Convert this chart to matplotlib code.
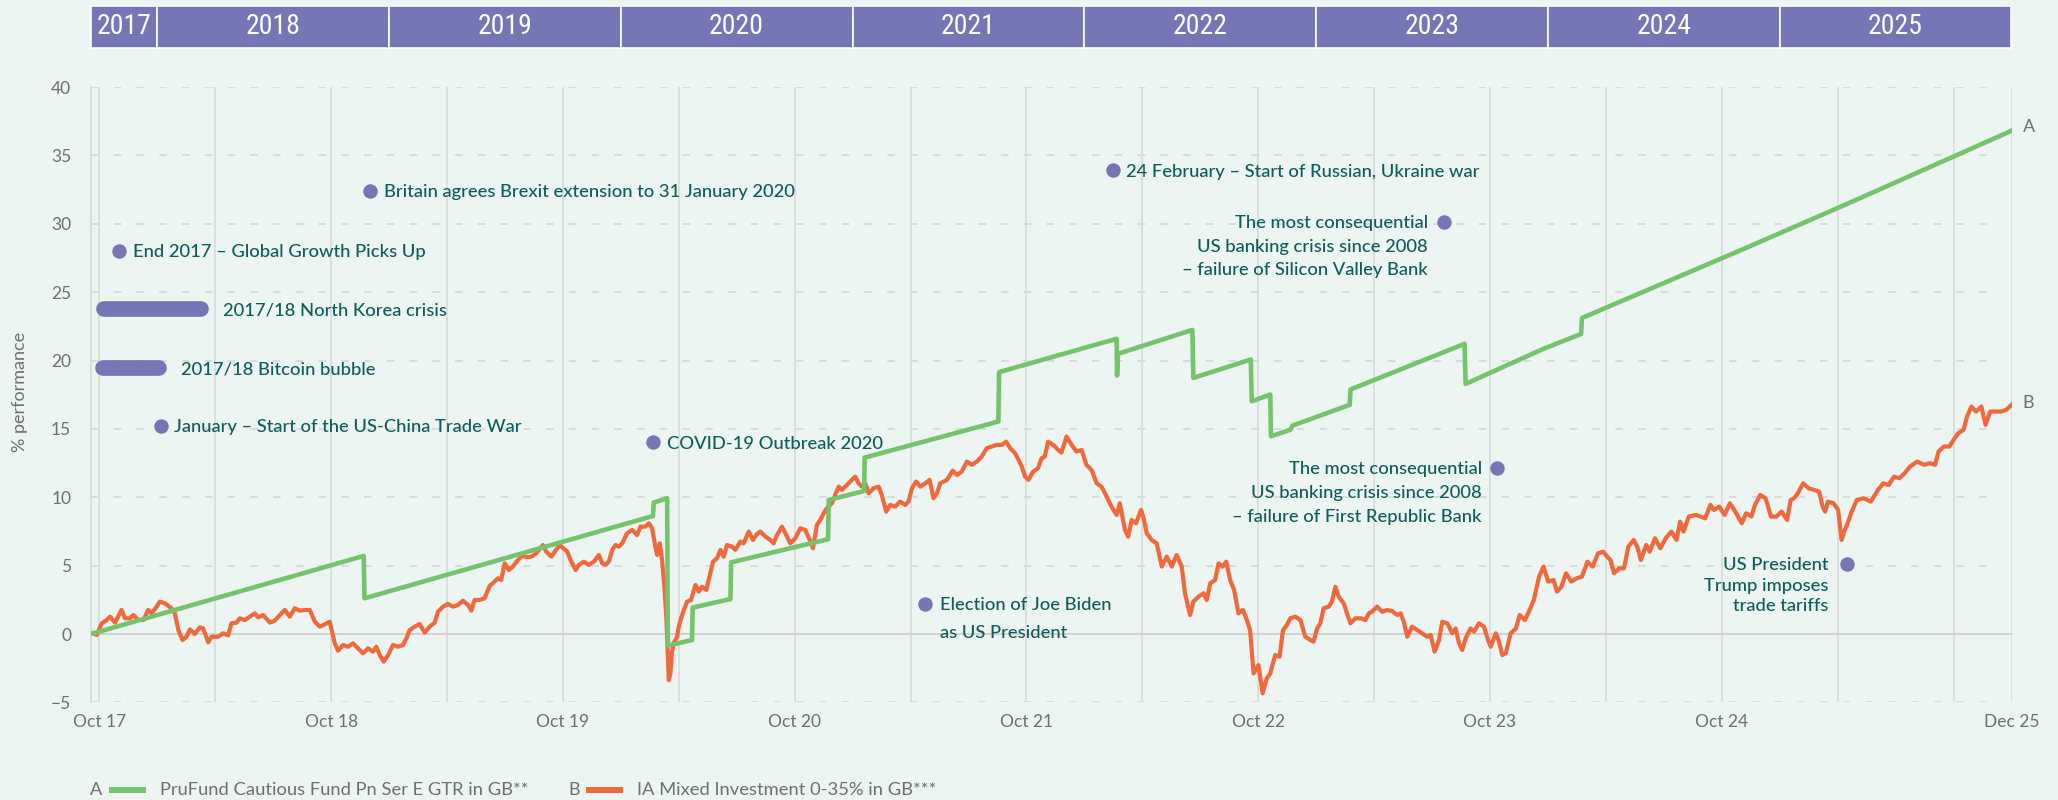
#!/usr/bin/env python3
"""PruFund Cautious vs IA Mixed Investment 0-35% - cumulative % performance, Oct 17 to Dec 25."""

import matplotlib
matplotlib.use("Agg")
import matplotlib.pyplot as plt
import matplotlib.transforms as mtransforms
from matplotlib import font_manager
from matplotlib.lines import Line2D
from matplotlib.patches import Rectangle

# ---- data (dates as decimal years, values in %) ----
YEARS = [2017, 2018, 2019, 2020, 2021, 2022, 2023, 2024, 2025]
X_TICKS = [2017.75, 2018.75, 2019.75, 2020.75, 2021.75, 2022.75, 2023.75, 2024.75, 2026.0]
X_LABELS = ["Oct 17", "Oct 18", "Oct 19", "Oct 20", "Oct 21", "Oct 22", "Oct 23", "Oct 24", "Dec 25"]
Y_TICKS = [-5, 0, 5, 10, 15, 20, 25, 30, 35, 40]

PRU_DATE = [2017.724, 2018.891, 2018.894, 2020.139, 2020.142, 2020.200, 2020.203, 2020.307,
            2020.310, 2020.473, 2020.476, 2020.894, 2020.897, 2021.050, 2021.052, 2021.629,
            2021.632, 2022.139, 2022.141, 2022.145, 2022.466, 2022.470, 2022.718, 2022.722,
            2022.802, 2022.805, 2022.888, 2022.898, 2023.145, 2023.148, 2023.640, 2023.645,
            2023.980, 2024.143, 2024.147, 2024.824, 2025.285, 2026.000]
PRU_PCT = [0.05, 5.71, 2.61, 8.63, 9.61, 9.93, -0.85, -0.44, 1.93, 2.56,
           5.24, 6.93, 9.8, 10.46, 12.9, 15.54, 19.15, 21.59, 18.9, 20.49,
           22.24, 18.73, 20.07, 17.02, 17.51, 14.46, 14.93, 15.24, 16.76, 17.88,
           21.22, 18.29, 20.85, 21.94, 23.11, 28.01, 31.41, 36.8]

IA_DATE = [
    2017.724, 2017.739, 2017.760, 2017.782, 2017.796, 2017.818, 2017.846, 2017.861, 2017.882, 2017.897,
    2017.918, 2017.940, 2017.961, 2017.976, 2017.997, 2018.011, 2018.033, 2018.062, 2018.076, 2018.091,
    2018.109, 2018.126, 2018.141, 2018.162, 2018.184, 2018.198, 2018.220, 2018.234, 2018.263, 2018.284,
    2018.306, 2018.320, 2018.342, 2018.356, 2018.378, 2018.399, 2018.421, 2018.435, 2018.457, 2018.486,
    2018.507, 2018.529, 2018.550, 2018.572, 2018.593, 2018.615, 2018.636, 2018.658, 2018.680, 2018.701,
    2018.723, 2018.744, 2018.766, 2018.780, 2018.802, 2018.823, 2018.845, 2018.866, 2018.888, 2018.909,
    2018.931, 2018.945, 2018.960, 2018.977, 2018.996, 2019.017, 2019.039, 2019.060, 2019.075, 2019.089,
    2019.111, 2019.132, 2019.154, 2019.175, 2019.197, 2019.211, 2019.233, 2019.254, 2019.276, 2019.297,
    2019.319, 2019.341, 2019.355, 2019.369, 2019.391, 2019.412, 2019.434, 2019.455, 2019.470, 2019.484,
    2019.499, 2019.517, 2019.534, 2019.556, 2019.578, 2019.592, 2019.614, 2019.635, 2019.664, 2019.678,
    2019.700, 2019.721, 2019.736,
    2019.769, 2019.783, 2019.805, 2019.819, 2019.841, 2019.862, 2019.884, 2019.905, 2019.920, 2019.934,
    2019.948, 2019.963, 2019.977, 2019.991, 2020.006, 2020.027, 2020.049, 2020.070, 2020.085, 2020.106,
    2020.121, 2020.135, 2020.149, 2020.157, 2020.168, 2020.178, 2020.188, 2020.197, 2020.203, 2020.207,
    2020.214, 2020.221, 2020.228, 2020.243, 2020.250, 2020.260, 2020.272, 2020.286, 2020.303, 2020.322,
    2020.336, 2020.351, 2020.369, 2020.379, 2020.398, 2020.415, 2020.430, 2020.444, 2020.458, 2020.480,
    2020.494, 2020.516, 2020.530, 2020.552, 2020.570, 2020.588, 2020.602, 2020.624, 2020.645, 2020.659,
    2020.674, 2020.695, 2020.710, 2020.731, 2020.753, 2020.774, 2020.796, 2020.815, 2020.829, 2020.846,
    2020.861, 2020.875, 2020.889, 2020.911, 2020.925, 2020.940, 2020.954, 2020.968, 2020.990, 2021.011,
    2021.026, 2021.040, 2021.055, 2021.069, 2021.091, 2021.112, 2021.126, 2021.145, 2021.162, 2021.184,
    2021.205, 2021.227, 2021.241, 2021.256, 2021.274, 2021.292, 2021.313, 2021.332, 2021.349, 2021.364,
    2021.378, 2021.407, 2021.432, 2021.450, 2021.471, 2021.493, 2021.514, 2021.536, 2021.557, 2021.579,
    2021.601, 2021.622, 2021.644, 2021.662, 2021.680, 2021.701, 2021.716, 2021.730, 2021.744, 2021.759,
    2021.779, 2021.800, 2021.815, 2021.829, 2021.844, 2021.865, 2021.887, 2021.901, 2021.923, 2021.945,
    2021.966, 2021.988, 2022.009, 2022.031, 2022.053, 2022.074, 2022.096, 2022.117, 2022.139, 2022.153,
    2022.175, 2022.189, 2022.204, 2022.223, 2022.244, 2022.254, 2022.269, 2022.290, 2022.312, 2022.334,
    2022.355, 2022.377, 2022.398, 2022.420, 2022.434, 2022.456, 2022.470, 2022.492, 2022.514, 2022.528,
    2022.543, 2022.564, 2022.579, 2022.597, 2022.612, 2022.629, 2022.646, 2022.665, 2022.684, 2022.701,
    2022.715, 2022.730, 2022.751, 2022.769, 2022.787, 2022.802, 2022.823, 2022.842, 2022.857, 2022.874,
    2022.888, 2022.910, 2022.932, 2022.953, 2022.975, 2022.989, 2023.004, 2023.018, 2023.032, 2023.054,
    2023.068, 2023.083, 2023.097, 2023.119, 2023.133, 2023.148, 2023.169, 2023.191, 2023.213, 2023.227,
    2023.241, 2023.263, 2023.285, 2023.306, 2023.328, 2023.349, 2023.364, 2023.378, 2023.393, 2023.414,
    2023.436, 2023.457, 2023.479, 2023.494, 2023.511, 2023.530, 2023.544, 2023.566, 2023.587, 2023.602,
    2023.616, 2023.630, 2023.645, 2023.666, 2023.681, 2023.702, 2023.724, 2023.739, 2023.753, 2023.775,
    2023.789, 2023.803, 2023.818, 2023.839,
    2023.862, 2023.878, 2023.901, 2023.924, 2023.939, 2023.962, 2023.981, 2024.001, 2024.024, 2024.039,
    2024.058, 2024.078, 2024.101, 2024.124, 2024.147, 2024.170, 2024.193, 2024.216, 2024.239, 2024.255,
    2024.270, 2024.285, 2024.308, 2024.328, 2024.347, 2024.370, 2024.385, 2024.401, 2024.424, 2024.439,
    2024.462, 2024.485, 2024.508, 2024.532, 2024.555, 2024.570, 2024.585, 2024.608, 2024.639, 2024.678,
    2024.701, 2024.716, 2024.739, 2024.762, 2024.785, 2024.808, 2024.836, 2024.855, 2024.878, 2024.893,
    2024.916, 2024.939, 2024.962, 2024.985, 2025.008, 2025.032, 2025.047, 2025.062, 2025.078, 2025.101,
    2025.124, 2025.147, 2025.170, 2025.185, 2025.196, 2025.208, 2025.232, 2025.252, 2025.267, 2025.278,
    2025.293, 2025.308, 2025.332, 2025.362, 2025.393, 2025.424, 2025.447, 2025.470, 2025.493, 2025.516,
    2025.539, 2025.562, 2025.593, 2025.624, 2025.647, 2025.670, 2025.685, 2025.708, 2025.732, 2025.750,
    2025.770, 2025.793, 2025.808, 2025.827, 2025.847, 2025.870, 2025.888, 2025.908, 2025.932, 2025.955,
    2025.977, 2026.000,
]
IA_PCT = [
    0.05, -0.07, 0.78, 1.02, 1.27, 0.83, 1.76, 1.15, 1.15, 1.39,
    1.02, 1.02, 1.76, 1.51, 2.0, 2.37, 2.24, 1.88, 1.51, 0.29,
    -0.44, -0.2, 0.34, 0.0, 0.49, 0.41, -0.61, -0.2, -0.2, 0.05,
    -0.1, 0.78, 0.83, 1.15, 1.02, 1.27, 1.51, 1.22, 1.39, 0.83,
    0.98, 1.39, 1.76, 1.27, 1.88, 1.71, 1.76, 1.76, 0.9, 0.54,
    0.71, 0.9, -0.68, -1.22, -0.8, -0.93, -0.68, -1.05, -1.41, -1.05,
    -1.29, -0.93, -1.54, -2.02, -1.54, -0.8, -0.93, -0.8, -0.32, 0.29,
    0.54, 0.73, 0.1, 0.54, 0.83, 1.63, 2.0, 2.2, 2.0, 2.12,
    2.44, 2.12, 1.71, 2.49, 2.49, 2.61, 3.51, 3.83, 4.07, 3.95,
    5.17, 4.68, 4.93, 5.41, 5.78, 5.61, 5.66, 5.9, 6.51, 6.02,
    5.66, 6.15, 6.51,
    6.02, 5.41, 4.68, 5.05, 5.29, 5.05, 5.29, 5.78, 5.17, 5.05,
    5.29, 6.15, 6.51, 6.39, 6.63, 7.37, 7.61, 7.24, 7.85, 7.85,
    8.1, 7.73, 6.39, 5.78, 6.63, 5.41, 3.46, 1.02, -1.66, -3.37,
    -2.88, -1.29, -0.68, -0.2, 0.54, 1.15, 1.76, 2.37, 2.49, 3.59,
    3.1, 3.46, 3.22, 3.95, 5.29, 5.54, 6.15, 5.66, 6.51, 6.39,
    6.15, 6.76, 6.63, 7.49, 6.88, 7.32, 7.49, 7.12, 6.88, 6.63,
    7.24, 7.85, 7.37, 6.63, 7.0, 7.73, 7.61, 6.88, 6.27, 7.98,
    8.34, 8.83, 9.2, 9.56, 10.17, 10.78, 10.54, 10.78, 11.15, 11.51,
    11.02, 10.78, 11.02, 10.29, 10.66, 10.78, 10.17, 8.95, 9.44, 9.32,
    9.68, 9.44, 9.68, 10.66, 11.15, 10.78, 11.02, 11.27, 9.93, 10.29,
    11.02, 11.27, 11.95, 11.63, 11.88, 12.61, 12.37, 12.61, 12.98, 13.59,
    13.71, 13.83, 13.83, 14.07, 13.59, 13.22, 12.73, 12.24, 11.51, 11.27,
    11.88, 12.12, 12.85, 12.98, 14.07, 13.83, 13.46, 13.27, 14.44, 13.83,
    13.34, 13.46, 12.37, 12.0, 11.02, 10.78, 10.05, 9.32, 8.71, 9.56,
    7.61, 7.12, 8.34, 8.1, 9.07, 8.59, 7.37, 6.88, 6.63, 4.93,
    5.66, 4.93, 5.78, 4.93, 2.98, 1.39, 2.37, 2.73, 2.98, 2.49,
    3.71, 3.95, 5.17, 4.93, 5.29, 3.95, 3.22, 1.51, 1.76, 1.02,
    0.29, -2.88, -2.27, -4.34, -3.24, -2.88, -1.54, -1.66, 0.29, 0.66,
    1.15, 1.27, 1.02, -0.2, -0.44, -0.56, 0.41, 0.78, 1.88, 2.0,
    2.37, 3.46, 2.73, 2.24, 1.51, 0.78, 1.15, 1.15, 1.02, 1.51,
    1.63, 2.0, 1.63, 1.76, 1.68, 1.39, 1.51, 0.9, -0.2, 0.54,
    0.29, 0.05, -0.2, -0.07, -1.29, -0.44, 0.9, 0.78, 0.05, 0.41,
    -0.68, -1.17, -0.32, 0.41, 0.17, 0.78, 0.54, -0.32, -0.93, 0.05,
    -0.56, -1.54, -1.41, 0.05,
    0.41, 1.39, 1.02, 1.88, 2.49, 4.2, 4.93, 3.83, 3.95, 3.1,
    3.46, 4.44, 3.83, 4.07, 4.2, 5.29, 4.93, 5.9, 6.02, 5.66,
    5.41, 4.44, 4.8, 4.8, 6.39, 6.88, 6.39, 5.41, 6.51, 6.02,
    7.0, 6.27, 7.0, 7.49, 6.88, 8.22, 7.49, 8.59, 8.71, 8.46,
    9.44, 9.07, 9.32, 8.71, 9.56, 8.95, 8.1, 8.83, 8.59, 9.44,
    10.17, 9.93, 8.59, 8.59, 8.95, 8.34, 9.8, 9.93, 10.29, 11.02,
    10.66, 10.54, 10.41, 9.32, 8.95, 9.68, 9.56, 9.07, 6.88, 7.49,
    8.1, 8.83, 9.8, 9.93, 9.68, 10.54, 11.02, 10.9, 11.51, 11.39,
    11.76, 12.24, 12.61, 12.37, 12.49, 12.37, 13.34, 13.71, 13.71, 14.2,
    14.68, 14.93, 15.9, 16.63, 16.27, 16.63, 15.29, 16.27, 16.27, 16.27,
    16.39, 16.76,
]

SERIES_NAMES = ["PruFund Cautious Fund Pn Ser E GTR in GB**", "IA Mixed Investment 0-35% in GB***"]

# point events: date, level, text
EVENT_DATE = [2017.837, 2018.919, 2018.017, 2020.141, 2021.313, 2022.124, 2023.550, 2023.780, 2025.289]
EVENT_PCT = [28.04, 32.43, 15.24, 14.02, 2.22, 33.9, 30.15, 12.17, 5.14]
EVENT_TEXT = [
    "End 2017 – Global Growth Picks Up",
    "Britain agrees Brexit extension to 31 January 2020",
    "January – Start of the US-China Trade War",
    "COVID-19 Outbreak 2020",
    "Election of Joe Biden\nas US President",
    "24 February – Start of Russian, Ukraine war",
    "The most consequential\nUS banking crisis since 2008\n– failure of Silicon Valley Bank",
    "The most consequential\nUS banking crisis since 2008\n– failure of First Republic Bank",
    "US President\nTrump imposes\ntrade tariffs",
]
# period events: start, end, level, text
SPAN_START = [2017.770, 2017.765]
SPAN_END = [2018.188, 2018.006]
SPAN_PCT = [23.77, 19.46]
SPAN_TEXT = ["2017/18 North Korea crisis", "2017/18 Bitcoin bubble"]

# ---- style ----
BG = "#ecf5f2"
PURPLE = "#7576b6"
TEAL = "#0f5d5a"
GREEN = "#74c46b"
ORANGE = "#f2683d"
GREY = "#6f6f6f"
GRID = "#d6d9d9"

W, H = 2058, 800
AX_L, AX_R, AX_T, AX_B = 90.6, 2011.5, 87.0, 702.4   # pixel box of the plot


def first_font(cands, fallback):
    have = {f.name for f in font_manager.fontManager.ttflist}
    for c in cands:
        if c in have:
            return c
    return fallback


BODY = first_font(["Lato", "Open Sans", "Noto Sans"], "DejaVu Sans")
NARROW = first_font(["Liberation Sans Narrow", "DejaVu Sans Condensed", "Roboto Condensed"], None)

plt.rcParams["font.family"] = [BODY, "DejaVu Sans"]

fig = plt.figure(figsize=(W / 100, H / 100), dpi=100, facecolor=BG)
ax = fig.add_axes([AX_L / W, 1 - AX_B / H, (AX_R - AX_L) / W, (AX_B - AX_T) / H])
ax.set_facecolor(BG)
ax.set_xlim(2017.7125, 2026.0)
ax.set_ylim(-5, 40)

for s in ["top", "right", "bottom"]:
    ax.spines[s].set_visible(False)
ax.spines["left"].set_color(GRID)
ax.spines["left"].set_linewidth(1.2)

# grid: half-year verticals, dashed horizontals, solid zero line
vx = 2017.75
while vx < 2026.0:
    ax.axvline(vx, color=GRID, lw=1.1, zorder=1)
    vx += 0.5
ax.axvline(2026.0, color=GRID, lw=1.1, zorder=1)
for y in Y_TICKS:
    if y == 0:
        ax.axhline(y, color="#d4cdd1", lw=1.3, zorder=1)
    else:
        ax.axhline(y, xmax=0.994, color=GRID, lw=1.3, dashes=(4.2, 8.4), zorder=1)

ax.set_yticks(Y_TICKS)
ax.set_xticks(X_TICKS, X_LABELS)
ax.tick_params(axis="y", length=0, pad=14, labelsize=12.5, labelcolor=GREY)
ax.tick_params(axis="x", length=0, pad=8, labelsize=12.5, labelcolor=GREY)

# series
ax.plot(IA_DATE, IA_PCT, color=ORANGE, lw=3.0, solid_joinstyle="round", zorder=3)
ax.plot(PRU_DATE, PRU_PCT, color=GREEN, lw=3.3, solid_joinstyle="round", zorder=4)

# end labels
ax.annotate("A", (PRU_DATE[-1], PRU_PCT[-1]), xytext=(8, 3), textcoords="offset points",
            ha="left", va="center", fontsize=13, color=GREY, annotation_clip=False)
ax.annotate("B", (IA_DATE[-1], IA_PCT[-1]), xytext=(8, 1), textcoords="offset points",
            ha="left", va="center", fontsize=13, color=GREY, annotation_clip=False)

# events
EVENT_DX = [10, 10, 9.5, 9.5, 11, 9, -11.5, -11, -13]     # points, sign = side of the dot
EVENT_LS = [0, 0, 0, 0, 20, 0, 17, 17.1, 14.8]          # line pitch in points
for t, v, txt, dx, ls in zip(EVENT_DATE, EVENT_PCT, EVENT_TEXT, EVENT_DX, EVENT_LS):
    ax.plot([t], [v], "o", ms=10.4, color=PURPLE, mec="none", zorder=5)
    for i, line in enumerate(txt.split("\n")):
        ax.annotate(line, (t, v), xytext=(dx, -i * ls), textcoords="offset points",
                    ha="left" if dx > 0 else "right", va="center_baseline",
                    fontsize=13.2, fontweight="medium", color=TEAL, zorder=6)

for t0, t1, v, txt in zip(SPAN_START, SPAN_END, SPAN_PCT, SPAN_TEXT):
    ax.plot([t0, t1], [v, v], color=PURPLE, lw=11.3, solid_capstyle="round", zorder=5)
    ax.annotate(txt, (t1, v), xytext=(16, 0), textcoords="offset points",
                ha="left", va="center_baseline", fontsize=13.2, fontweight="medium",
                color=TEAL, zorder=6)

# year band above the plot
band = mtransforms.blended_transform_factory(ax.transData, ax.transAxes)
y0 = (AX_B - 47.7) / (AX_B - AX_T)
y1 = (AX_B - 6.0) / (AX_B - AX_T)
lo, hi = ax.get_xlim()
year_kw = dict(fontsize=20, color="white", ha="center", va="center")
if NARROW:
    year_kw["family"] = NARROW
else:
    year_kw["fontstretch"] = "condensed"
    year_kw["family"] = "DejaVu Sans"
for yr in YEARS:
    a, b = max(yr, lo), min(yr + 1, hi)
    ax.add_patch(Rectangle((a, y0), b - a, y1 - y0, transform=band, facecolor=PURPLE,
                           edgecolor="white", lw=1.2, clip_on=False, zorder=2))
    ax.text((a + b) / 2, (y0 + y1) / 2, str(yr), transform=band, clip_on=False, **year_kw)

# axis title
fig.text(20 / W, 1 - 392 / H, "% performance", rotation=90, ha="center", va="center",
         fontsize=13, color=GREY)

# legend along the bottom
ly = 1 - 790 / H
fig.text(96 / W, ly, "A", ha="center", va="center", fontsize=13, color=GREY)
fig.add_artist(Line2D([109 / W, 146 / W], [ly, ly], color=GREEN, lw=4.3, solid_capstyle="butt"))
fig.text(160 / W, ly, SERIES_NAMES[0], ha="left", va="center", fontsize=13.2, color=GREY)
fig.text(574 / W, ly, "B", ha="center", va="center", fontsize=13, color=GREY)
fig.add_artist(Line2D([586 / W, 623 / W], [ly, ly], color=ORANGE, lw=4.3, solid_capstyle="butt"))
fig.text(637 / W, ly, SERIES_NAMES[1], ha="left", va="center", fontsize=13.2, color=GREY)

fig.savefig("out.png", dpi=100, facecolor=BG)
